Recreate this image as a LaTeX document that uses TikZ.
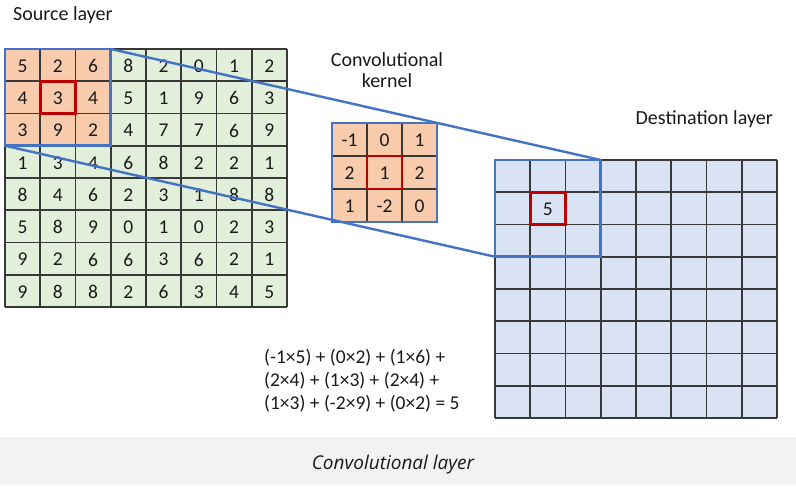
\documentclass[tikz,border=0pt]{standalone}
\usepackage{fontspec}
\setmainfont{Carlito}
\newfontfamily\capfont{Open Sans}
\definecolor{srcgreen}{HTML}{E2EFDA}
\definecolor{kernorange}{HTML}{F8CBAD}
\definecolor{dstblue}{HTML}{DAE3F3}
\definecolor{boxblue}{HTML}{4472C4}
\definecolor{boxred}{HTML}{C00000}
\definecolor{gridgray}{HTML}{383838}
\definecolor{capbg}{HTML}{F2F2F2}
\definecolor{txt}{HTML}{1A1A1A}
\tikzset{
  gridline/.style={draw=gridgray, line width=1.8pt},
  bluebox/.style={draw=boxblue, line width=2.6pt},
  redbox/.style={draw=boxred, line width=2.6pt},
  conn/.style={draw=boxblue, line width=2.4pt},
  num/.style={font=\fontsize{19.5}{22}\selectfont, text=txt, inner sep=0pt},
  label/.style={font=\fontsize{20}{24}\selectfont, text=txt, inner sep=0pt},
  formula/.style={font=\fontsize{19.5}{24}\selectfont, text=txt, inner sep=0pt},
}
\begin{document}
\begin{tikzpicture}[x=1pt,y=-1pt]
\useasboundingbox (0,0) rectangle (796,489);
\fill[white] (0,0) rectangle (796,489);
\fill[capbg] (0,437) rectangle (796,485);
\def\cw{35.25}
\def\ch{32.25}
% ---------- source layer ----------
\fill[srcgreen] (5,49) rectangle (5+8*\cw,49+8*\ch);
\fill[kernorange] (5,49) rectangle (5+3*\cw,49+3*\ch);
\foreach \i in {0,...,8} {
  \draw[gridline] (5+\i*\cw,49) -- (5+\i*\cw,49+8*\ch);
  \draw[gridline] (5,49+\i*\ch) -- (5+8*\cw,49+\i*\ch);
}
\foreach \row [count=\r from 0] in {{5,2,6,8,2,0,1,2},{4,3,4,5,1,9,6,3},{3,9,2,4,7,7,6,9},{1,3,4,6,8,2,2,1},{8,4,6,2,3,1,8,8},{5,8,9,0,1,0,2,3},{9,2,6,6,3,6,2,1},{9,8,8,2,6,3,4,5}} {
  \foreach \v [count=\c from 0] in \row {
    \node[num] (s-\r-\c) at (5+\c*\cw+\cw/2,49+\r*\ch+\ch/2+1) {\v};
  }
}
\draw[redbox] (5+\cw,49+\ch) rectangle (5+2*\cw,49+2*\ch);
\draw[bluebox] (5,49) rectangle (5+3*\cw,49+3*\ch);
\coordinate (srcTR) at (5+3*\cw,49);
\coordinate (srcBL) at (5,49+3*\ch);
% ---------- kernel ----------
\def\kw{35}
\def\kh{33}
\fill[kernorange] (332,123) rectangle (332+3*\kw,123+3*\kh);
\foreach \i in {1,2} {
  \draw[gridline] (332+\i*\kw,123) -- (332+\i*\kw,123+3*\kh);
  \draw[gridline] (332,123+\i*\kh) -- (332+3*\kw,123+\i*\kh);
}
\foreach \row [count=\r from 0] in {{-1,0,1},{2,1,2},{1,-2,0}} {
  \foreach \v [count=\c from 0] in \row {
    \node[num] (k-\r-\c) at (332+\c*\kw+\kw/2,123+\r*\kh+\kh/2+1) {\v};
  }
}
\draw[redbox] (332+\kw,123+\kh) rectangle (332+2*\kw,123+2*\kh);
\draw[bluebox] (332,123) rectangle (332+3*\kw,123+3*\kh);
% ---------- destination layer ----------
\fill[dstblue] (495,160) rectangle (495+8*\cw,160+8*\ch);
\foreach \i in {0,...,8} {
  \draw[gridline] (495+\i*\cw,160) -- (495+\i*\cw,160+8*\ch);
  \draw[gridline] (495,160+\i*\ch) -- (495+8*\cw,160+\i*\ch);
}
\node[num] (d-1-1) at (495+1.5*\cw,160+1.5*\ch+1) {5};
\draw[redbox] (495+\cw,160+\ch) rectangle (495+2*\cw,160+2*\ch);
\draw[bluebox] (495,160) rectangle (495+3*\cw,160+3*\ch);
\coordinate (dstTR) at (495+3*\cw,160);
\coordinate (dstBL) at (495,160+3*\ch);
% ---------- connectors ----------
\draw[conn] (srcTR) -- (dstTR);
\draw[conn] (srcBL) -- (dstBL);
% ---------- labels ----------
\node[label, anchor=base west] (srclab) at (13,21) {Source layer};
\node[label, anchor=base] (kerlab1) at (387,67) {Convolutional};
\node[label, anchor=base] (kerlab2) at (387,88) {kernel};
\node[label, anchor=base east] (dstlab) at (773,125) {Destination layer};
\node[formula, anchor=base west] (f1) at (264,363) {(-1×5) + (0×2) + (1×6) +};
\node[formula, anchor=base west] (f2) at (264,386) {(2×4) + (1×3) + (2×4) +};
\node[formula, anchor=base west] (f3) at (264,409) {(1×3) + (-2×9) + (0×2) = 5};
\node[font=\capfont\itshape\fontsize{19}{22}\selectfont, text=txt, anchor=base, inner sep=0pt] (cap) at (393,469) {Convolutional layer};
\end{tikzpicture}
\end{document}
